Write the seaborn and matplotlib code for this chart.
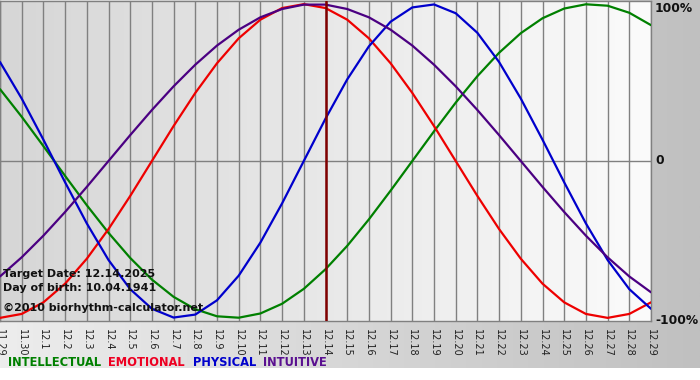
import numpy as np
import pandas as pd
import matplotlib
matplotlib.use("Agg")
import matplotlib.pyplot as plt
from matplotlib.colors import LinearSegmentedColormap
import seaborn as sns

dates = ["11.29", "11.30"] + [f"12.{d}" for d in range(1, 30)]
physical = [0.631, 0.398, 0.136, -0.136, -0.398, -0.631, -0.817, -0.942, -0.998, -0.979,
            -0.888, -0.731, -0.520, -0.270, 0.0, 0.270, 0.520, 0.731, 0.888, 0.979,
            0.998, 0.942, 0.817, 0.631, 0.398, 0.136, -0.136, -0.398, -0.631, -0.817, -0.942]
emotional = [-1.0, -0.975, -0.901, -0.782, -0.623, -0.434, -0.223, 0.0, 0.223, 0.434,
             0.623, 0.782, 0.901, 0.975, 1.0, 0.975, 0.901, 0.782, 0.623, 0.434,
             0.223, 0.0, -0.223, -0.434, -0.623, -0.782, -0.901, -0.975, -1.0, -0.975, -0.901]
intellectual = [0.458, 0.282, 0.095, -0.095, -0.282, -0.458, -0.618, -0.756, -0.866, -0.945,
                -0.990, -0.999, -0.972, -0.910, -0.815, -0.690, -0.541, -0.372, -0.189, 0.0,
                0.189, 0.372, 0.541, 0.690, 0.815, 0.910, 0.972, 0.999, 0.990, 0.945, 0.866]
intuitive = [-0.736, -0.614, -0.476, -0.325, -0.165, 0.0, 0.165, 0.325, 0.476, 0.614,
             0.736, 0.837, 0.916, 0.969, 0.997, 0.997, 0.969, 0.916, 0.837, 0.736,
             0.614, 0.476, 0.325, 0.165, 0.0, -0.165, -0.325, -0.476, -0.614, -0.736, -0.837]
target_date = "12.14"
y_ticks = [1.0, 0.0, -1.0]
y_labels = ["100%", "0", "-100%"]

series_names = ["INTELLECTUAL", "EMOTIONAL", "PHYSICAL", "INTUITIVE"]
colors = {"INTELLECTUAL": "#008000", "EMOTIONAL": "#ee0000",
          "PHYSICAL": "#0000cc", "INTUITIVE": "#4b0082"}
text_colors = {"INTELLECTUAL": "#008000", "EMOTIONAL": "#ee0022",
               "PHYSICAL": "#0000cc", "INTUITIVE": "#5a1090"}

rows = []
for name, vals in zip(series_names, [intellectual, emotional, physical, intuitive]):
    for i, v in enumerate(vals):
        rows.append({"day": i, "value": v, "series": name})
df = pd.DataFrame(rows)

sns.set_style("white")
plt.rcParams["font.family"] = ["DejaVu Sans"]

W, H = 700, 380
fig = plt.figure(figsize=(7, 3.8), dpi=100, facecolor="white")

# background gradient axes
bg = fig.add_axes([0, 12 / H, 1, 368 / H])
bg.imshow(np.linspace(0, 1, 256)[None, :], aspect="auto",
          cmap=LinearSegmentedColormap.from_list("bg", ["#ededed", "#c0c0c0"]),
          extent=[0, 1, 0, 1])
bg.set_axis_off()

ax = fig.add_axes([0, 1 - 321 / H, 651 / W, 320 / H])
ax.imshow(np.linspace(0, 1, 256)[None, :], aspect="auto",
          cmap=LinearSegmentedColormap.from_list("pl", ["#d6d6d6", "#fbfbfb"]),
          extent=[0, len(dates) - 1, -1.02, 1.02], zorder=0)

for i in range(len(dates)):
    ax.axvline(i, color="#808080", lw=1, zorder=1)
ax.axhline(0, color="#808080", lw=1, zorder=1)

sns.lineplot(data=df, x="day", y="value", hue="series", palette=colors,
             hue_order=series_names, linewidth=1.6, ax=ax, legend=False,
             zorder=3, estimator=None, sort=False)
ax.axvline(dates.index(target_date), color="#800000", lw=1.8, zorder=4)

ax.set_xlim(0, len(dates) - 1)
ax.set_ylim(-1.02, 1.02)
ax.set_xticks(range(len(dates)))
ax.set_xticklabels(dates, rotation=270, fontsize=7, color="#222222")
ax.tick_params(axis="x", length=4, pad=2, color="#808080", direction="out")
ax.set_yticks([])
ax.set_xlabel("")
ax.set_ylabel("")
for s in ax.spines.values():
    s.set_color("#808080")
    s.set_linewidth(1)

label_px = [8, 161, 321]
for yp, lab in zip(label_px, y_labels):
    fig.text(655 / W, 1 - yp / H, lab, fontsize=8.8, fontweight="bold",
             va="center", ha="left", color="#111111")

# overlay info text
ax.text(3 / 651, 1 - 273 / 320, "Target Date: 12.14.2025", transform=ax.transAxes,
        fontsize=8, fontweight="bold", va="center", ha="left", color="#111111")
ax.text(3 / 651, 1 - 287 / 320, "Day of birth: 10.04.1941", transform=ax.transAxes,
        fontsize=8, fontweight="bold", va="center", ha="left", color="#111111")
ax.text(3 / 651, 1 - 307 / 320, "\u00a92010 biorhythm-calculator.net", transform=ax.transAxes,
        fontsize=8, fontweight="bold", va="center", ha="left", color="#111111")

# legend text row
xs = [8, 108, 193, 263]
for name, x in zip(series_names, xs):
    fig.text(x / W, 1 - 362 / H, name, fontsize=8.3, fontweight="bold",
             color=text_colors[name], va="center", ha="left")

fig.savefig("out.png", dpi=100, facecolor="white")
